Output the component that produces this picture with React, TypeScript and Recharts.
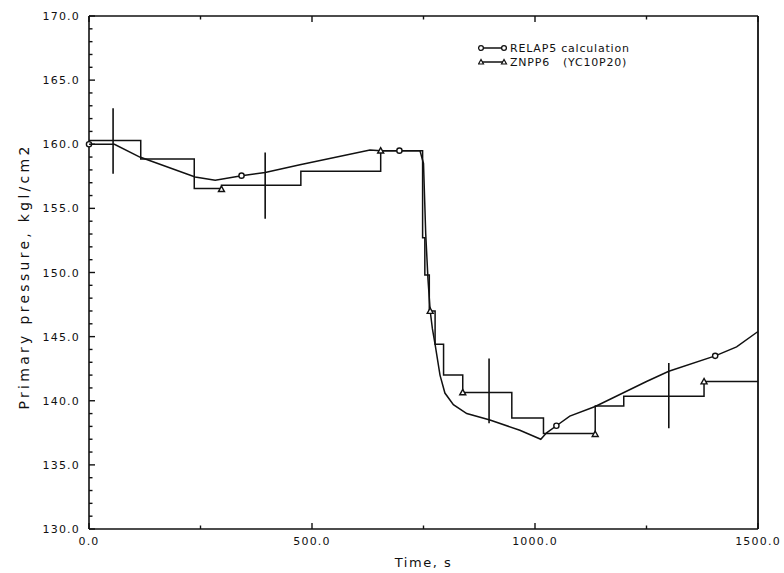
import React from 'react';
import { ComposedChart, Line, Scatter, XAxis, YAxis } from 'recharts';

// RELAP5 calculation (smooth curve)
const relapTime = [0, 57, 114, 238, 283, 342, 395, 473, 630, 654, 696, 742, 750, 755, 760, 765, 770, 776, 787, 798, 817, 847, 899, 966, 1013, 1026, 1048, 1078, 1135, 1250, 1300, 1404, 1452, 1500];
const relapPressure = [160.0, 160.0, 159.0, 157.45, 157.2, 157.55, 157.8, 158.4, 159.55, 159.5, 159.5, 159.5, 158.5, 153.0, 149.5, 147.0, 145.6, 144.4, 142.0, 140.6, 139.7, 139.0, 138.5, 137.7, 137.0, 137.5, 138.05, 138.8, 139.55, 141.5, 142.3, 143.5, 144.2, 145.4];

// ZNPP6 (YC10P20) plant data (step line)
const znppTime = [0, 116, 236, 297, 475, 654, 748, 753, 763, 776, 795, 838, 948, 1019, 1135, 1199, 1379, 1500];
const znppPressure = [160.3, 158.85, 156.55, 156.8, 157.9, 159.5, 152.7, 149.8, 147.0, 144.4, 142.0, 140.65, 138.65, 137.45, 139.6, 140.35, 141.5, 141.5];

// markers
const relapMarkTime = [0, 342, 696, 1048, 1404];
const relapMarkPressure = [160.0, 157.55, 159.5, 138.05, 143.5];
const znppMarkTime = [297, 654, 765, 838, 1135, 1379];
const znppMarkPressure = [156.5, 159.5, 147.0, 140.65, 137.4, 141.5];

// error bars (measurement uncertainty)
const errTime = [54, 395, 897, 1300];
const errLow = [157.7, 154.2, 138.25, 137.85];
const errHigh = [162.8, 159.35, 143.3, 142.95];

// axis ticks / frame
const xTicks = [0, 250, 500, 750, 1000, 1250, 1500];
const xMajor = [0, 500, 1000, 1500];
const yTicks = [130, 131, 132, 133, 134, 135, 136, 137, 138, 139, 140, 141, 142, 143, 144, 145, 146, 147, 148, 149, 150, 151, 152, 153, 154, 155, 156, 157, 158, 159, 160, 161, 162, 163, 164, 165, 166, 167, 168, 169, 170];
const yMajor = [130, 135, 140, 145, 150, 155, 160, 165, 170];
const xDomain = [0, 1500];
const yDomain = [130, 170];

// legend labels
const legendLabels = ['RELAP5 calculation', 'ZNPP6   (YC10P20)'];

const relapData = relapTime.map((t, i) => ({ t, p: relapPressure[i] }));
const znppData = znppTime.map((t, i) => ({ t, p: znppPressure[i] }));
const relapMarks = relapMarkTime.map((t, i) => ({ t, p: relapMarkPressure[i] }));
const znppMarks = znppMarkTime.map((t, i) => ({ t, p: znppMarkPressure[i] }));
const errData: { t: number; p: number | null }[] = [];
errTime.forEach((t, i) => {
  errData.push({ t, p: errLow[i] });
  errData.push({ t, p: errHigh[i] });
  errData.push({ t, p: null });
});
// right-hand frame edge of the plot box
const rightEdge = [
  { t: xDomain[1], p: yDomain[0] },
  { t: xDomain[1], p: yDomain[1] },
];

const FONT = '"DejaVu Sans", sans-serif';
const INK = '#111';

const LeftTick = (props: any) => {
  const { x, y, payload } = props;
  const v = payload.value;
  const major = yMajor.includes(v);
  return (
    <g>
      <line x1={x + 9} y1={y} x2={x + 9 + (major ? 6 : 3.5)} y2={y} stroke={INK} strokeWidth={1.4} />
      {major && (
        <text x={x} y={y} dy={4} textAnchor="end" fontFamily={FONT} fontSize={11} letterSpacing={1.2} fill={INK}>
          {v.toFixed(1)}
        </text>
      )}
    </g>
  );
};

const BottomTick = (props: any) => {
  const { x, y, payload } = props;
  const v = payload.value;
  const major = xMajor.includes(v);
  return (
    <g>
      <line x1={x} y1={y - 8} x2={x} y2={y - 8 - (major ? 6 : 3.5)} stroke={INK} strokeWidth={1.4} />
      {major && (
        <text x={x} y={y} dy="0.71em" textAnchor="middle" fontFamily={FONT} fontSize={11} letterSpacing={1.2} fill={INK}>
          {v.toFixed(1)}
        </text>
      )}
    </g>
  );
};

const TopTick = (props: any) => {
  const { x, y, payload } = props;
  const major = xMajor.includes(payload.value);
  return <line x1={x} y1={y} x2={x} y2={y + (major ? 6 : 3.5)} stroke={INK} strokeWidth={1.4} />;
};

const Circle = (props: any) => {
  const { cx, cy } = props;
  if (cx == null || cy == null) return null;
  return <circle cx={cx} cy={cy} r={2.6} fill="#fff" stroke={INK} strokeWidth={1.4} />;
};

const Tri = (props: any) => {
  const { cx, cy } = props;
  if (cx == null || cy == null) return null;
  const s = 3;
  return <polygon points={`${cx},${cy - s} ${cx - s},${cy + s * 0.8} ${cx + s},${cy + s * 0.8}`} fill="#fff" stroke={INK} strokeWidth={1.4} />;
};

const LegendBox = () => (
  <svg width={230} height={34} style={{ display: 'block' }}>
    <line x1={3} y1={9} x2={26} y2={9} stroke={INK} strokeWidth={1.5} />
    <circle cx={3} cy={9} r={2.4} fill="#fff" stroke={INK} strokeWidth={1.3} />
    <circle cx={26} cy={9} r={2.4} fill="#fff" stroke={INK} strokeWidth={1.3} />
    <text x={32} y={13} fontFamily={FONT} fontSize={11} letterSpacing={0.8} fill={INK}>{legendLabels[0]}</text>
    <line x1={3} y1={23} x2={26} y2={23} stroke={INK} strokeWidth={1.5} />
    <polygon points="3,20.5 0.5,25 5.5,25" fill="#fff" stroke={INK} strokeWidth={1.2} />
    <polygon points="26,20.5 23.5,25 28.5,25" fill="#fff" stroke={INK} strokeWidth={1.2} />
    <text x={32} y={27} fontFamily={FONT} fontSize={11} letterSpacing={0.8} fill={INK} style={{ whiteSpace: 'pre' }}>{legendLabels[1]}</text>
  </svg>
);

export default function App() {
  return (
    <div style={{ position: 'absolute', left: 0, top: 0, width: 784, height: 573, background: '#fff' }}>
      <ComposedChart width={784} height={573} margin={{ top: 15, right: 26, bottom: 0, left: 0 }}>
        <XAxis
          xAxisId="b"
          dataKey="t"
          type="number"
          domain={xDomain}
          ticks={xTicks}
          interval={0}
          height={44}
          tickSize={0}
          tickMargin={8}
          tick={<BottomTick />}
          axisLine={{ stroke: INK, strokeWidth: 1.6 }}
          tickLine={false}
          label={{ value: 'Time,  s', position: 'insideBottom', offset: 6, fontFamily: FONT, fontSize: 13, letterSpacing: 1.5, fill: INK, style: { whiteSpace: 'pre' } }}
        />
        <XAxis
          xAxisId="top"
          orientation="top"
          dataKey="t"
          type="number"
          domain={xDomain}
          ticks={xTicks}
          interval={0}
          height={1}
          tickSize={0}
          tickMargin={0}
          tick={<TopTick />}
          axisLine={{ stroke: INK, strokeWidth: 1.6 }}
          tickLine={false}
        />
        <YAxis
          yAxisId="l"
          type="number"
          domain={yDomain}
          ticks={yTicks}
          interval={0}
          width={89}
          tickSize={0}
          tickMargin={9}
          tick={<LeftTick />}
          axisLine={{ stroke: INK, strokeWidth: 1.6 }}
          tickLine={false}
          label={{ value: 'Primary  pressure,   kgl/cm2', angle: -90, position: 'insideLeft', offset: 24, dy: 137, fontFamily: FONT, fontSize: 14, letterSpacing: 3.3, fill: INK, style: { whiteSpace: 'pre' } }}
        />
        <Line xAxisId="top" yAxisId="l" data={relapData} dataKey="p" stroke="none" strokeWidth={0} dot={false} activeDot={false} isAnimationActive={false} legendType="none" />
        <Line xAxisId="b" yAxisId="l" data={rightEdge} dataKey="p" type="linear" stroke={INK} strokeWidth={1.8} dot={false} activeDot={false} isAnimationActive={false} legendType="none" />
        <Line xAxisId="b" yAxisId="l" data={errData} dataKey="p" type="linear" stroke={INK} strokeWidth={1.6} dot={false} connectNulls={false} isAnimationActive={false} legendType="none" />
        <Line xAxisId="b" yAxisId="l" data={znppData} dataKey="p" type="stepAfter" stroke={INK} strokeWidth={1.5} dot={false} isAnimationActive={false} name="ZNPP6 (YC10P20)" />
        <Line xAxisId="b" yAxisId="l" data={relapData} dataKey="p" type="linear" stroke={INK} strokeWidth={1.5} dot={false} isAnimationActive={false} name="RELAP5 calculation" />
        <Scatter xAxisId="b" yAxisId="l" data={relapMarks} dataKey="p" shape={<Circle />} isAnimationActive={false} legendType="none" />
        <Scatter xAxisId="b" yAxisId="l" data={znppMarks} dataKey="p" shape={<Tri />} isAnimationActive={false} legendType="none" />
      </ComposedChart>
      <div style={{ position: 'absolute', left: 478, top: 39 }}>
        <LegendBox />
      </div>
    </div>
  );
}
